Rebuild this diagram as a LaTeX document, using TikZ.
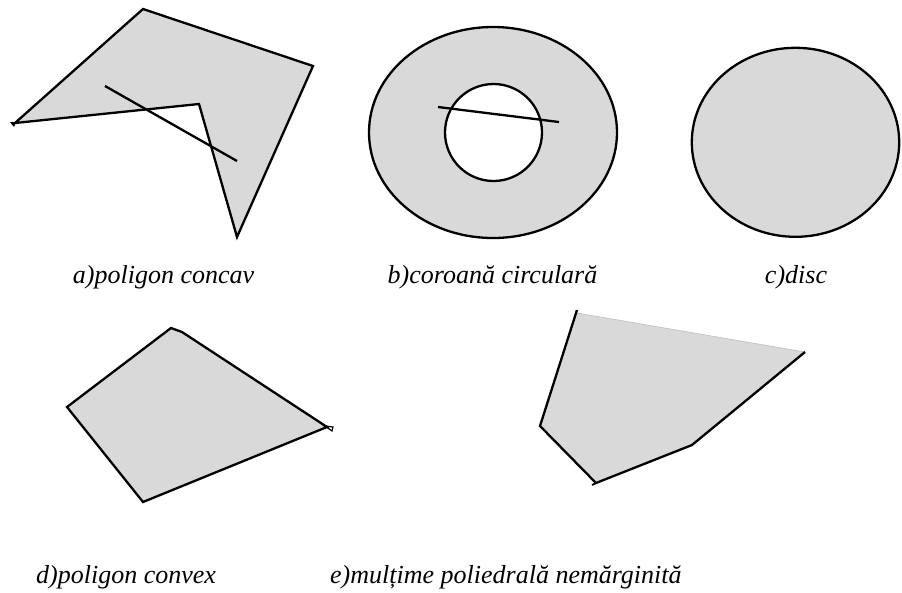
\documentclass[tikz,border=0pt]{standalone}
\usepackage{fontspec}
\setmainfont{Liberation Serif}
\begin{document}
\begin{tikzpicture}[x=1pt,y=-1pt,
  region/.style={fill=regfill,draw=black,line width=2.3pt,line join=miter},
  outline/.style={draw=black,line width=2.3pt},
  cutline/.style={draw=black,line width=2.3pt},
  lbl/.style={inner sep=0pt,font=\fontsize{26}{30}\selectfont\itshape}]
\definecolor{regfill}{HTML}{D9D9D9}
\useasboundingbox (0,0) rectangle (902,592);
% a) concave polygon
\path[region] (15,123) -- (143,9) -- (313,66) -- (237,237) -- (199,104) -- cycle;
\fill (10,122) -- (16,122) -- (14,127) -- cycle;
\coordinate (a1) at (105,86);
\coordinate (a2) at (237,161);
\draw[cutline] (a1) -- (a2);
% b) annulus
\path[fill=regfill,even odd rule] (493,132.5) ellipse [x radius=124,y radius=105.5]
  (493.5,132.5) circle [radius=48.5];
\draw[outline] (493,132.5) ellipse [x radius=124,y radius=105.5];
\draw[outline] (493.5,132.5) circle [radius=48.5];
\coordinate (b1) at (438,107);
\coordinate (b2) at (559,122);
\draw[cutline] (b1) -- (b2);
% c) disc
\path[region] (795.5,142.3) ellipse [x radius=103.7,y radius=94.5];
% d) convex polygon
\path[region] (67,407) -- (171,328) -- (182,332) -- (327,427) -- (143,502) -- cycle;
\draw[line width=1.2pt] (325,426) -- (333,427) -- (332,431) -- cycle;
% e) unbounded polyhedral set
\fill[regfill] (577,313) -- (805,352) -- (692,445) -- (596,483) -- (540,426) -- cycle;
\draw[gray!50,line width=0.6pt] (577,313) -- (805,352);
\draw[outline,line join=miter] (577,310) -- (540,426) -- (596,483) -- (692,445) -- (805,352);
\draw[black,line width=1.8pt] (596,483) -- (592,485);
% labels
\node[lbl,anchor=base] (la) at (163.5,283) {a)poligon concav};
\node[lbl,anchor=base] (lb) at (492.5,283) {b)coroană circulară};
\node[lbl,anchor=base] (lc) at (796,283) {c)disc};
\node[lbl,anchor=base west] (ld) at (36,583) {d)poligon convex};
\node[lbl,anchor=base west] (le) at (330,583) {e)mulțime poliedrală nemărginită};
\end{tikzpicture}
\end{document}
